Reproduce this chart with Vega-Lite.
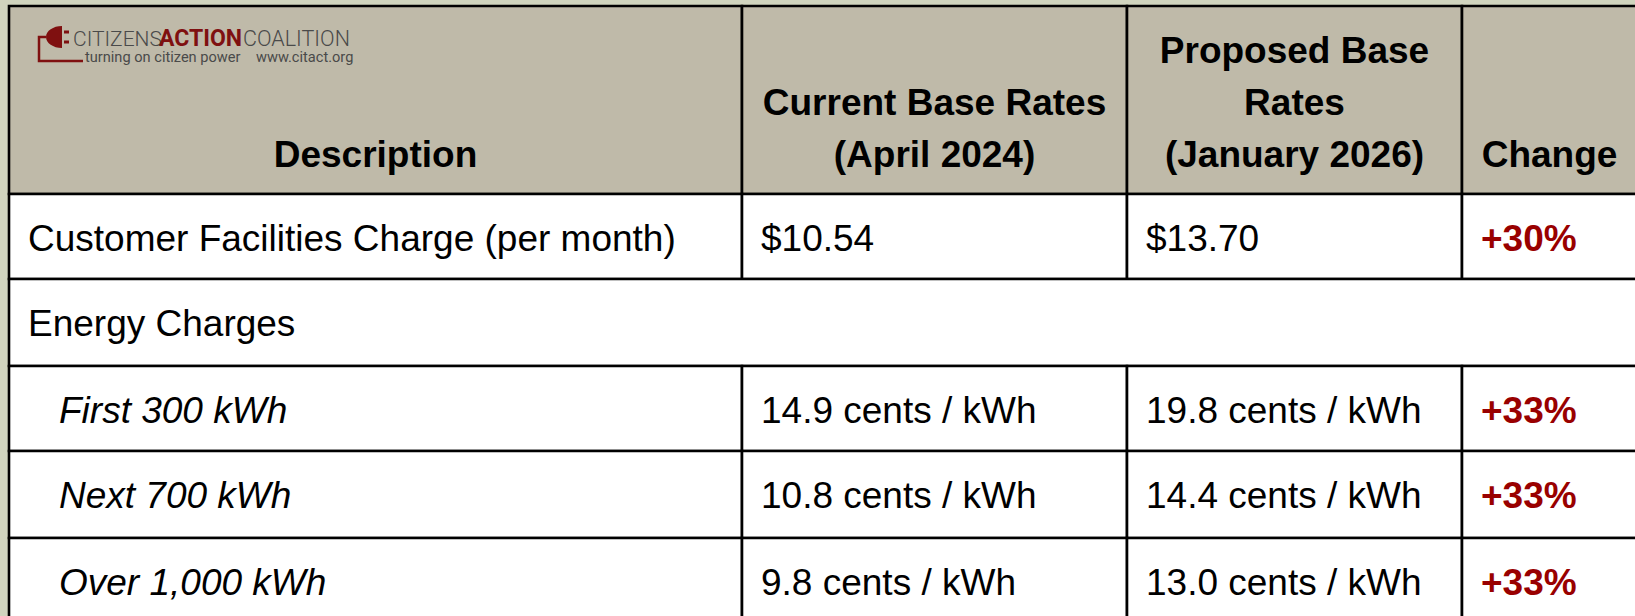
{
  "$schema": "https://vega.github.io/schema/vega-lite/v6.json",
  "width": 1635,
  "height": 616,
  "autosize": "none",
  "padding": 0,
  "background": "#d0d4be",
  "config": {"view": {"stroke": null}},
  "datasets": {
    "cells": [
      {"r": 0, "r2": 1, "c": 0, "c2": 1, "kind": "header"},
      {"r": 0, "r2": 1, "c": 1, "c2": 2, "kind": "header"},
      {"r": 0, "r2": 1, "c": 2, "c2": 3, "kind": "header"},
      {"r": 0, "r2": 1, "c": 3, "c2": 4, "kind": "header"},
      {"r": 1, "r2": 2, "c": 0, "c2": 1, "kind": "body"},
      {"r": 1, "r2": 2, "c": 1, "c2": 2, "kind": "body"},
      {"r": 1, "r2": 2, "c": 2, "c2": 3, "kind": "body"},
      {"r": 1, "r2": 2, "c": 3, "c2": 4, "kind": "body"},
      {"r": 2, "r2": 3, "c": 0, "c2": 4, "kind": "body"},
      {"r": 3, "r2": 4, "c": 0, "c2": 1, "kind": "body"},
      {"r": 3, "r2": 4, "c": 1, "c2": 2, "kind": "body"},
      {"r": 3, "r2": 4, "c": 2, "c2": 3, "kind": "body"},
      {"r": 3, "r2": 4, "c": 3, "c2": 4, "kind": "body"},
      {"r": 4, "r2": 5, "c": 0, "c2": 1, "kind": "body"},
      {"r": 4, "r2": 5, "c": 1, "c2": 2, "kind": "body"},
      {"r": 4, "r2": 5, "c": 2, "c2": 3, "kind": "body"},
      {"r": 4, "r2": 5, "c": 3, "c2": 4, "kind": "body"},
      {"r": 5, "r2": 6, "c": 0, "c2": 1, "kind": "body"},
      {"r": 5, "r2": 6, "c": 1, "c2": 2, "kind": "body"},
      {"r": 5, "r2": 6, "c": 2, "c2": 3, "kind": "body"},
      {"r": 5, "r2": 6, "c": 3, "c2": 4, "kind": "body"}
    ],
    "header": [
      {"c": 0, "line": 0, "text": "Description"},
      {"c": 1, "line": 1, "text": "Current Base Rates"},
      {"c": 1, "line": 0, "text": "(April 2024)"},
      {"c": 2, "line": 2, "text": "Proposed Base"},
      {"c": 2, "line": 1, "text": "Rates"},
      {"c": 2, "line": 0, "text": "(January 2026)"},
      {"c": 3, "line": 0, "text": "Change"}
    ],
    "body": [
      {"r": 1, "c": 0, "text": "Customer Facilities Charge (per month)", "style": "plain"},
      {"r": 1, "c": 1, "text": "$10.54", "style": "plain"},
      {"r": 1, "c": 2, "text": "$13.70", "style": "plain"},
      {"r": 1, "c": 3, "text": "+30%", "style": "change"},
      {"r": 2, "c": 0, "text": "Energy Charges", "style": "plain"},
      {"r": 3, "c": 0, "text": "First 300 kWh", "style": "italic"},
      {"r": 3, "c": 1, "text": "14.9 cents / kWh", "style": "plain"},
      {"r": 3, "c": 2, "text": "19.8 cents / kWh", "style": "plain"},
      {"r": 3, "c": 3, "text": "+33%", "style": "change"},
      {"r": 4, "c": 0, "text": "Next 700 kWh", "style": "italic"},
      {"r": 4, "c": 1, "text": "10.8 cents / kWh", "style": "plain"},
      {"r": 4, "c": 2, "text": "14.4 cents / kWh", "style": "plain"},
      {"r": 4, "c": 3, "text": "+33%", "style": "change"},
      {"r": 5, "c": 0, "text": "Over 1,000 kWh", "style": "italic"},
      {"r": 5, "c": 1, "text": "9.8 cents / kWh", "style": "plain"},
      {"r": 5, "c": 2, "text": "13.0 cents / kWh", "style": "plain"},
      {"r": 5, "c": 3, "text": "+33%", "style": "change"}
    ],
    "logo": [
      {"r": 0, "c": 0, "part": "icon", "text": ""},
      {"r": 0, "c": 0, "part": "citizens", "text": "CITIZENS"},
      {"r": 0, "c": 0, "part": "action", "text": "ACTION"},
      {"r": 0, "c": 0, "part": "coalition", "text": "COALITION"},
      {"r": 0, "c": 0, "part": "tag", "text": "turning on citizen power"},
      {"r": 0, "c": 0, "part": "url", "text": "www.citact.org"}
    ]
  },
  "resolve": {"scale": {"x": "independent", "y": "independent", "color": "independent"}},
  "layer": [
    {
      "data": {"name": "cells"},
      "mark": {"type": "rect", "stroke": "#000000", "strokeWidth": 2.6},
      "encoding": {
        "x": {"field": "c", "type": "quantitative", "axis": null, "scale": {"type": "linear", "domain": [0, 1, 2, 3, 4], "range": [9, 742, 1127, 1462, 1637], "nice": false, "zero": false}},
        "x2": {"field": "c2"},
        "y": {"field": "r", "type": "quantitative", "axis": null, "scale": {"type": "linear", "domain": [0, 1, 2, 3, 4, 5, 6], "range": [6, 194, 279, 366, 451, 538, 624], "nice": false, "zero": false}},
        "y2": {"field": "r2"},
        "color": {"field": "kind", "type": "nominal", "legend": null, "scale": {"domain": ["header", "body"], "range": ["#bfbaa9", "#ffffff"]}}
      }
    },
    {
      "data": {"name": "header"},
      "mark": {"type": "text", "font": "Liberation Sans", "fontWeight": "bold", "fontSize": 37, "align": "center", "baseline": "middle", "color": "#000000"},
      "encoding": {
        "x": {"field": "c", "type": "quantitative", "axis": null, "scale": {"type": "linear", "domain": [0, 1, 2, 3], "range": [375.5, 934.5, 1294.5, 1549.5], "nice": false, "zero": false}},
        "y": {"field": "line", "type": "quantitative", "axis": null, "scale": {"type": "linear", "domain": [0, 1, 2], "range": [156, 103.5, 52], "nice": false, "zero": false}},
        "text": {"field": "text", "type": "nominal"}
      }
    },
    {
      "data": {"name": "body"},
      "transform": [{"filter": "datum.style === 'plain'"}],
      "mark": {"type": "text", "font": "Liberation Sans", "fontSize": 37, "align": "left", "baseline": "middle", "xOffset": 19, "yOffset": 46, "color": "#000000"},
      "encoding": {
        "x": {"field": "c", "type": "quantitative", "axis": null, "scale": {"type": "linear", "domain": [0, 1, 2, 3, 4], "range": [9, 742, 1127, 1462, 1637], "nice": false, "zero": false}},
        "y": {"field": "r", "type": "quantitative", "axis": null, "scale": {"type": "linear", "domain": [0, 1, 2, 3, 4, 5, 6], "range": [6, 194, 279, 366, 451, 538, 624], "nice": false, "zero": false}},
        "text": {"field": "text", "type": "nominal"}
      }
    },
    {
      "data": {"name": "body"},
      "transform": [{"filter": "datum.style === 'italic'"}],
      "mark": {"type": "text", "font": "Liberation Sans", "fontStyle": "italic", "fontSize": 37, "align": "left", "baseline": "middle", "xOffset": 50, "yOffset": 46, "color": "#000000"},
      "encoding": {
        "x": {"field": "c", "type": "quantitative", "axis": null, "scale": {"type": "linear", "domain": [0, 1, 2, 3, 4], "range": [9, 742, 1127, 1462, 1637], "nice": false, "zero": false}},
        "y": {"field": "r", "type": "quantitative", "axis": null, "scale": {"type": "linear", "domain": [0, 1, 2, 3, 4, 5, 6], "range": [6, 194, 279, 366, 451, 538, 624], "nice": false, "zero": false}},
        "text": {"field": "text", "type": "nominal"}
      }
    },
    {
      "data": {"name": "body"},
      "transform": [{"filter": "datum.style === 'change'"}],
      "mark": {"type": "text", "font": "Liberation Sans", "fontWeight": "bold", "fontSize": 37, "align": "left", "baseline": "middle", "xOffset": 19, "yOffset": 46, "color": "#990000"},
      "encoding": {
        "x": {"field": "c", "type": "quantitative", "axis": null, "scale": {"type": "linear", "domain": [0, 1, 2, 3, 4], "range": [9, 742, 1127, 1462, 1637], "nice": false, "zero": false}},
        "y": {"field": "r", "type": "quantitative", "axis": null, "scale": {"type": "linear", "domain": [0, 1, 2, 3, 4, 5, 6], "range": [6, 194, 279, 366, 451, 538, 624], "nice": false, "zero": false}},
        "text": {"field": "text", "type": "nominal"}
      }
    },
    {
      "data": {"name": "logo"},
      "transform": [{"filter": "datum.part === 'icon'"}],
      "mark": {"type": "point", "shape": "M 8 -11 L 8 11 A 16 11 0 0 1 8 -11 Z M 10 -6.5 L 15 -6.5 L 15 -3.5 L 10 -3.5 Z M 10 3.5 L 15 3.5 L 15 6.5 L 10 6.5 Z", "size": 4, "filled": true, "fill": "#7f1010", "opacity": 1, "strokeWidth": 0, "xOffset": 45, "yOffset": 31},
      "encoding": {
        "x": {"field": "c", "type": "quantitative", "axis": null, "scale": {"type": "linear", "domain": [0, 1, 2, 3, 4], "range": [9, 742, 1127, 1462, 1637], "nice": false, "zero": false}},
        "y": {"field": "r", "type": "quantitative", "axis": null, "scale": {"type": "linear", "domain": [0, 1, 2, 3, 4, 5, 6], "range": [6, 194, 279, 366, 451, 538, 624], "nice": false, "zero": false}}
      }
    },
    {
      "data": {"name": "logo"},
      "transform": [{"filter": "datum.part === 'icon'"}],
      "mark": {"type": "point", "shape": "M -8 0 L -15 0 L -15 24 L 29 24", "size": 4, "filled": false, "stroke": "#7f1010", "strokeWidth": 2.5, "strokeJoin": "miter", "opacity": 1, "xOffset": 45, "yOffset": 31},
      "encoding": {
        "x": {"field": "c", "type": "quantitative", "axis": null, "scale": {"type": "linear", "domain": [0, 1, 2, 3, 4], "range": [9, 742, 1127, 1462, 1637], "nice": false, "zero": false}},
        "y": {"field": "r", "type": "quantitative", "axis": null, "scale": {"type": "linear", "domain": [0, 1, 2, 3, 4, 5, 6], "range": [6, 194, 279, 366, 451, 538, 624], "nice": false, "zero": false}}
      }
    },
    {
      "data": {"name": "logo"},
      "transform": [{"filter": "datum.part === 'citizens'"}],
      "mark": {"type": "text", "font": "Roboto", "fontWeight": 300, "fontSize": 21, "align": "left", "baseline": "alphabetic", "xOffset": 64, "yOffset": 40, "color": "#4a4a4a"},
      "encoding": {
        "x": {"field": "c", "type": "quantitative", "axis": null, "scale": {"type": "linear", "domain": [0, 1, 2, 3, 4], "range": [9, 742, 1127, 1462, 1637], "nice": false, "zero": false}},
        "y": {"field": "r", "type": "quantitative", "axis": null, "scale": {"type": "linear", "domain": [0, 1, 2, 3, 4, 5, 6], "range": [6, 194, 279, 366, 451, 538, 624], "nice": false, "zero": false}},
        "text": {"field": "text", "type": "nominal"}
      }
    },
    {
      "data": {"name": "logo"},
      "transform": [{"filter": "datum.part === 'action'"}],
      "mark": {"type": "text", "font": "Roboto", "fontWeight": "bold", "fontSize": 23, "align": "left", "baseline": "alphabetic", "xOffset": 150, "yOffset": 40, "color": "#7f1010"},
      "encoding": {
        "x": {"field": "c", "type": "quantitative", "axis": null, "scale": {"type": "linear", "domain": [0, 1, 2, 3, 4], "range": [9, 742, 1127, 1462, 1637], "nice": false, "zero": false}},
        "y": {"field": "r", "type": "quantitative", "axis": null, "scale": {"type": "linear", "domain": [0, 1, 2, 3, 4, 5, 6], "range": [6, 194, 279, 366, 451, 538, 624], "nice": false, "zero": false}},
        "text": {"field": "text", "type": "nominal"}
      }
    },
    {
      "data": {"name": "logo"},
      "transform": [{"filter": "datum.part === 'coalition'"}],
      "mark": {"type": "text", "font": "Roboto", "fontWeight": 300, "fontSize": 21.5, "align": "left", "baseline": "alphabetic", "xOffset": 234, "yOffset": 40, "color": "#4a4a4a"},
      "encoding": {
        "x": {"field": "c", "type": "quantitative", "axis": null, "scale": {"type": "linear", "domain": [0, 1, 2, 3, 4], "range": [9, 742, 1127, 1462, 1637], "nice": false, "zero": false}},
        "y": {"field": "r", "type": "quantitative", "axis": null, "scale": {"type": "linear", "domain": [0, 1, 2, 3, 4, 5, 6], "range": [6, 194, 279, 366, 451, 538, 624], "nice": false, "zero": false}},
        "text": {"field": "text", "type": "nominal"}
      }
    },
    {
      "data": {"name": "logo"},
      "transform": [{"filter": "datum.part === 'tag'"}],
      "mark": {"type": "text", "font": "Roboto", "fontSize": 14.6, "align": "left", "baseline": "alphabetic", "xOffset": 76, "yOffset": 56, "color": "#4a4a4a"},
      "encoding": {
        "x": {"field": "c", "type": "quantitative", "axis": null, "scale": {"type": "linear", "domain": [0, 1, 2, 3, 4], "range": [9, 742, 1127, 1462, 1637], "nice": false, "zero": false}},
        "y": {"field": "r", "type": "quantitative", "axis": null, "scale": {"type": "linear", "domain": [0, 1, 2, 3, 4, 5, 6], "range": [6, 194, 279, 366, 451, 538, 624], "nice": false, "zero": false}},
        "text": {"field": "text", "type": "nominal"}
      }
    },
    {
      "data": {"name": "logo"},
      "transform": [{"filter": "datum.part === 'url'"}],
      "mark": {"type": "text", "font": "Roboto", "fontSize": 14.6, "align": "left", "baseline": "alphabetic", "xOffset": 247, "yOffset": 56, "color": "#4a4a4a"},
      "encoding": {
        "x": {"field": "c", "type": "quantitative", "axis": null, "scale": {"type": "linear", "domain": [0, 1, 2, 3, 4], "range": [9, 742, 1127, 1462, 1637], "nice": false, "zero": false}},
        "y": {"field": "r", "type": "quantitative", "axis": null, "scale": {"type": "linear", "domain": [0, 1, 2, 3, 4, 5, 6], "range": [6, 194, 279, 366, 451, 538, 624], "nice": false, "zero": false}},
        "text": {"field": "text", "type": "nominal"}
      }
    }
  ]
}
